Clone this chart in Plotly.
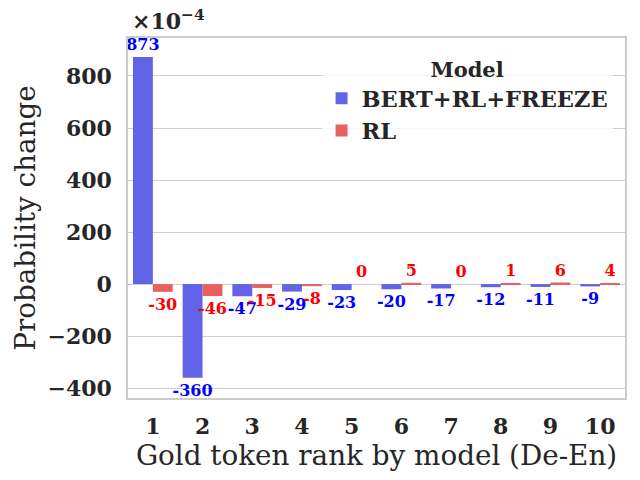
import plotly.graph_objects as go

ranks = ["1", "2", "3", "4", "5", "6", "7", "8", "9", "10"]
bert_vals = [873, -360, -47, -29, -23, -20, -17, -12, -11, -9]
rl_vals = [-30, -46, -15, -8, 0, 5, 0, 1, 6, 4]
series_names = ["BERT+RL+FREEZE", "RL"]
bar_colors = ["rgb(99,99,232)", "rgb(232,96,96)"]
text_colors = ["blue", "red"]
y_ticks = [-400, -200, 0, 200, 400, 600, 800]

FONT = "DejaVu Serif"
DARK = "#262626"

fig = go.Figure()
for name, vals, bc, tc in zip(series_names, [bert_vals, rl_vals], bar_colors, text_colors):
    fig.add_trace(go.Bar(
        x=ranks, y=vals, name=name,
        marker=dict(color=bc, line=dict(width=0)),
        text=[str(v) for v in vals],
        textposition="outside",
        constraintext="none",
        cliponaxis=False,
        textfont=dict(family=FONT, size=16, color=tc, weight="bold"),
    ))

fig.update_layout(
    width=640, height=480,
    margin=dict(l=128, r=15, t=38, b=82),
    paper_bgcolor="white", plot_bgcolor="white",
    barmode="group", bargap=0.2, bargroupgap=0,
    font=dict(family=FONT, color=DARK),
    showlegend=True,
    legend=dict(
        title=dict(text="<b>Model</b>", side="top center", font=dict(family=FONT, size=21, color=DARK)),
        font=dict(family=FONT, size=22.5, color=DARK, weight="bold"),
        x=0.975, y=0.967, xanchor="right", yanchor="top",
        bgcolor="rgba(255,255,255,0.8)",
        borderwidth=0,
        itemwidth=30,
    ),
    annotations=[dict(
        text="×10<sup>−4</sup>", xref="paper", yref="paper", x=0, y=1.0,
        xanchor="left", yanchor="bottom", showarrow=False, xshift=2, yshift=2,
        font=dict(family=FONT, size=22, color=DARK, weight="bold"),
    )],
)
fig.update_xaxes(
    range=[-0.5, 9.5],
    showgrid=False,
    showline=True, linecolor="#cccccc", linewidth=1.5, mirror=True,
    ticks="", ticklabelstandoff=8,
    tickfont=dict(family=FONT, size=22, color=DARK, weight="bold"),
    title=dict(text="Gold token rank by model (De-En)", font=dict(family=FONT, size=27.8, color=DARK), standoff=4),
)
fig.update_yaxes(
    range=[-438, 946],
    tickvals=y_ticks,
    showgrid=True, gridcolor="#cccccc", gridwidth=1,
    zeroline=False,
    showline=True, linecolor="#cccccc", linewidth=1.5, mirror=True,
    ticks="", ticklabelstandoff=10,
    tickfont=dict(family=FONT, size=22, color=DARK, weight="bold"),
    title=dict(text="Probability change", font=dict(family=FONT, size=27.8, color=DARK), standoff=4),
)

fig.write_html("out.html", config={"displayModeBar": False},
               post_script="document.body.style.margin='0';document.body.style.overflow='hidden';")
